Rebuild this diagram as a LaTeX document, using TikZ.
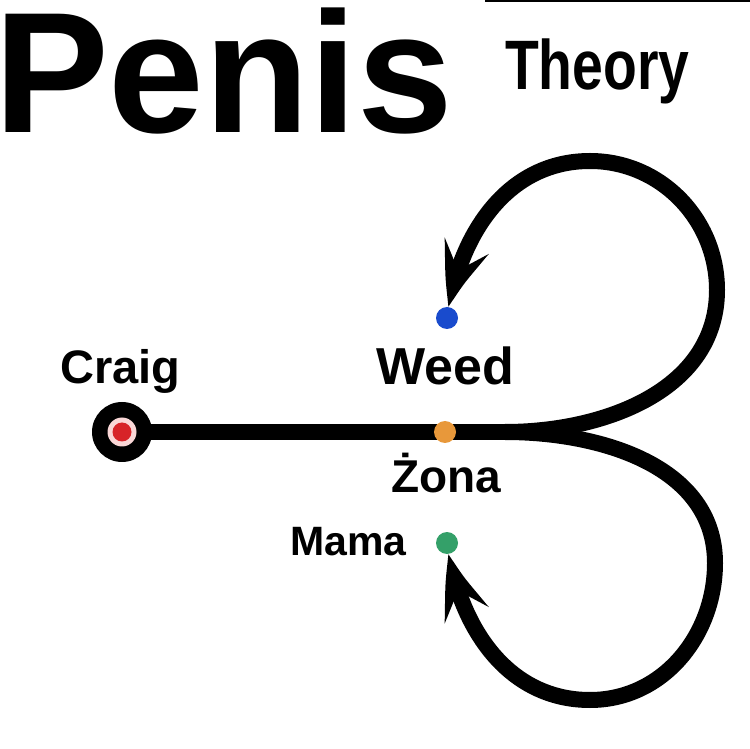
\documentclass[tikz,border=0pt]{standalone}
\usepackage{fontspec}
\setmainfont{Liberation Sans}
\usetikzlibrary{arrows.meta,backgrounds,bending}
\definecolor{wblue}{RGB}{25,75,205}
\definecolor{zorange}{RGB}{232,152,58}
\definecolor{mgreen}{RGB}{52,160,105}
\definecolor{cred}{RGB}{215,35,40}
\definecolor{cpink}{RGB}{250,215,215}

\begin{document}
\begin{tikzpicture}[x=1pt,y=1pt,
  dot/.style={circle,inner sep=0pt,minimum size=22pt},
  lbl/.style={anchor=base west,inner sep=0pt,font=\bfseries\fontsize{#1}{#1}\selectfont},
  track/.style={line width=16pt,black},
  arr/.style={track,-{Stealth[length=64pt,width=46pt,inset=26pt,bend]}}
]
\useasboundingbox (0,0) rectangle (750,748);
\draw[line width=2pt] (485,747) -- (750,747);
\node[lbl=172] (title) at (-6,615) {Penis};
\node[lbl=70] (sub) at (505,658) {\scalebox{0.79}[1]{Theory}};

\node[circle,fill=black,inner sep=0pt,minimum size=60pt] (craig) at (122,316) {};
\node[circle,fill=cpink,inner sep=0pt,minimum size=29pt] (craigring) at (craig) {};
\node[circle,fill=cred,inner sep=0pt,minimum size=19pt] (craigcore) at (craig) {};
\node[dot,fill=zorange] (zdot) at (445,316) {};
\node[dot,fill=wblue] (wdot) at (447,430) {};
\node[dot,fill=mgreen] (mdot) at (447,205) {};
\coordinate (fork) at (505,316);
\coordinate (upR) at (717,458);
\coordinate (upT) at (590,587);
\coordinate (loR) at (715,185);
\coordinate (loB) at (590,48);

\node[lbl=47] (craiglbl) at (60,364) {Craig};
\node[lbl=52] (weedlbl) at (376,363) {Weed};
\node[lbl=46] (zonalbl) at (391,255) {Żona};
\node[lbl=41] (mamalbl) at (290,193) {Mama};

\begin{scope}[on background layer]
\fill[white] (0,0) rectangle (750,748);
\draw[track] (craig.center) -- (fork);
\draw[arr] (fork) to[out=0,in=-90] (upR) to[out=90,in=0] (upT)
  to[out=180,in=80] (wdot);
\draw[arr] (fork) to[out=0,in=90] (loR) to[out=-90,in=0] (loB)
  to[out=180,in=-80] (mdot);
\end{scope}
\end{tikzpicture}
\end{document}
